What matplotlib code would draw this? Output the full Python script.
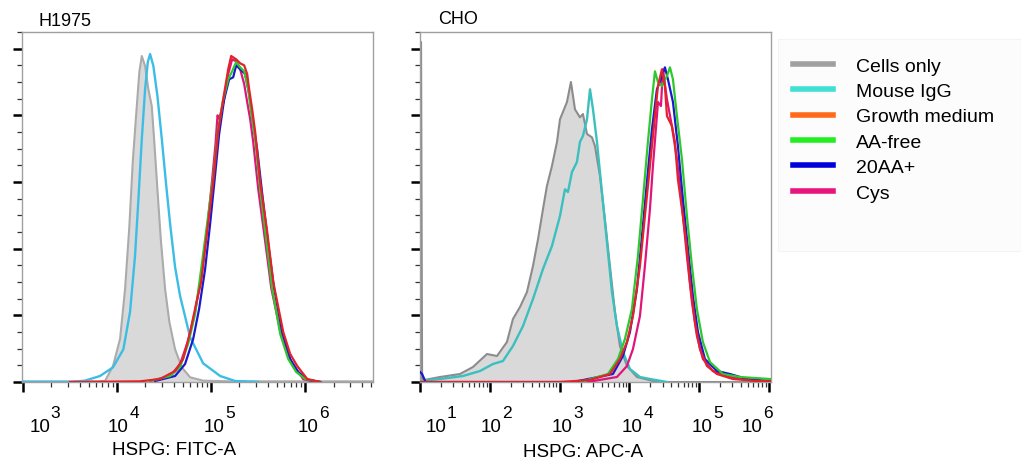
import numpy as np
import matplotlib
matplotlib.use("Agg")
import matplotlib.pyplot as plt
from matplotlib.lines import Line2D
from matplotlib.patches import Rectangle
from matplotlib.ticker import LogLocator, MultipleLocator, NullFormatter

plt.rcParams['font.family'] = ['Liberation Sans', 'DejaVu Sans']

# --- valores (x en log10 de la intensidad, y en cuentas relativas) ---
legend_labels = ["Cells only", "Mouse IgG", "Growth medium", "AA-free", "20AA+", "Cys"]
legend_colors = ["#a0a0a0", "#40e0d4", "#ff6a1a", "#22ee22", "#0000dd", "#e8157d"]

# Panel H1975 (FITC)
h_decades = [3, 4, 5, 6]
h_cells_x = [2.99, 3.80, 3.872, 3.957, 4.032, 4.085, 4.131, 4.167, 4.202, 4.237, 4.263, 4.298,
             4.333, 4.369, 4.394, 4.429, 4.465, 4.511, 4.556, 4.617, 4.688, 4.777, 4.915, 5.2, 6.72]
h_cells_y = [0.01, 0.01, 0.015, 0.24, 0.645, 1.39, 2.34, 3.30, 3.99, 4.65, 4.89, 4.74,
             4.39, 4.14, 3.64, 2.89, 2.14, 1.39, 0.90, 0.49, 0.22, 0.07, 0.02, 0.01, 0.01]
h_igg_x = [2.99, 3.50, 3.660, 3.819, 3.957, 4.067, 4.138, 4.191, 4.227, 4.263, 4.298, 4.327, 4.351,
           4.386, 4.429, 4.476, 4.521, 4.564, 4.617, 4.670, 4.777, 4.915, 5.096, 5.255, 5.5]
h_igg_y = [0.0, 0.0, 0.02, 0.09, 0.22, 0.49, 1.05, 1.89, 2.74, 3.64, 4.39, 4.80, 4.92,
           4.74, 4.29, 3.64, 2.97, 2.37, 1.72, 1.29, 0.67, 0.28, 0.09, 0.015, 0.0]
h_growth_x = [3.5, 4.245, 4.457, 4.617, 4.702, 4.777, 4.840, 4.894, 4.957, 5.021, 5.074, 5.128, 5.181,
              5.213, 5.266, 5.309, 5.351, 5.383, 5.404, 5.436, 5.468, 5.521, 5.596, 5.660, 5.766,
              5.840, 5.915, 6.021, 6.160]
h_growth_y = [0.0, 0.01, 0.045, 0.165, 0.345, 0.75, 1.17, 1.50, 2.25, 3.00, 3.75, 4.24, 4.69,
              4.89, 4.84, 4.78, 4.75, 4.62, 4.39, 4.09, 3.75, 3.00, 2.25, 1.50, 0.75,
              0.42, 0.24, 0.045, 0.0]
h_aafree_x = [4.351, 4.564, 4.670, 4.755, 4.830, 4.894, 4.957, 5.021, 5.074, 5.128, 5.181, 5.223, 5.266,
              5.309, 5.351, 5.394, 5.436, 5.468, 5.521, 5.585, 5.649, 5.734, 5.819, 5.904, 6.000, 6.160]
h_aafree_y = [0.015, 0.09, 0.225, 0.57, 1.02, 1.695, 2.37, 3.07, 3.79, 4.24, 4.54, 4.66, 4.80,
              4.72, 4.66, 4.39, 3.94, 3.64, 2.89, 2.14, 1.395, 0.72, 0.345, 0.15, 0.045, 0.0]
h_20aa_x = [4.404, 4.617, 4.723, 4.809, 4.872, 4.936, 4.989, 5.043, 5.085, 5.138, 5.191, 5.234, 5.266,
            5.309, 5.362, 5.404, 5.447, 5.489, 5.543, 5.606, 5.670, 5.755, 5.840, 5.926, 6.032, 6.160]
h_20aa_y = [0.015, 0.09, 0.27, 0.645, 1.095, 1.695, 2.37, 3.12, 3.72, 4.24, 4.54, 4.57, 4.75,
            4.69, 4.62, 4.32, 3.87, 3.49, 2.82, 2.07, 1.395, 0.75, 0.345, 0.15, 0.03, 0.0]
h_cys_x = [4.351, 4.564, 4.670, 4.755, 4.830, 4.894, 4.957, 5.011, 5.045, 5.068, 5.085, 5.106, 5.138,
           5.181, 5.223, 5.266, 5.309, 5.351, 5.383, 5.415, 5.447, 5.500, 5.575, 5.640, 5.745,
           5.850, 5.980, 6.160]
h_cys_y = [0.015, 0.09, 0.27, 0.615, 1.065, 1.575, 2.29, 3.04, 3.55, 4.00, 3.95, 4.05, 4.24,
           4.62, 4.84, 4.81, 4.69, 4.47, 4.20, 3.94, 3.60, 2.90, 2.10, 1.40, 0.70,
           0.30, 0.04, 0.0]

# Panel CHO (APC)
c_decades = [1, 2, 3, 4, 5, 6]
c_cells_x = [1.0, 1.008, 1.015, 1.03, 1.06, 1.287, 1.573, 1.759, 1.960, 2.103, 2.246, 2.332, 2.433,
             2.533, 2.619, 2.691, 2.762, 2.819, 2.891, 2.963, 3.006, 3.106, 3.163, 3.221, 3.292,
             3.335, 3.393, 3.464, 3.507, 3.579, 3.650, 3.722, 3.794, 3.865, 3.966, 4.109, 4.395, 6.03]
c_cells_y = [0.03, 5.1, 5.1, 0.05, 0.03, 0.075, 0.12, 0.225, 0.42, 0.39, 0.60, 0.945, 1.125,
             1.35, 1.74, 2.14, 2.59, 2.94, 3.24, 3.60, 3.94, 4.20, 4.50, 4.09, 3.97,
             4.02, 3.72, 3.67, 3.54, 3.09, 2.44, 1.74, 1.05, 0.54, 0.24, 0.075, 0.0, 0.0]
c_igg_x = [1.03, 1.287, 1.616, 1.860, 2.046, 2.189, 2.332, 2.476, 2.619, 2.762, 2.891, 3.006, 3.077,
           3.120, 3.178, 3.249, 3.292, 3.335, 3.393, 3.436, 3.479, 3.536, 3.607, 3.679, 3.751,
           3.822, 3.908, 4.009, 4.152, 4.295, 4.539]
c_igg_y = [0.02, 0.045, 0.09, 0.165, 0.27, 0.315, 0.54, 0.84, 1.245, 1.695, 2.04, 2.49, 2.89,
           2.85, 3.15, 3.30, 3.60, 3.69, 3.94, 4.39, 4.09, 3.60, 2.85, 2.10, 1.35,
           0.84, 0.45, 0.195, 0.075, 0.045, 0.0]
c_growth_x = [1.0, 3.006, 3.436, 3.722, 3.865, 3.966, 4.052, 4.152, 4.223, 4.295, 4.367, 4.410, 4.467,
              4.510, 4.539, 4.610, 4.653, 4.696, 4.768, 4.825, 4.868, 4.940, 5.011, 5.112, 5.255,
              5.484, 5.828, 6.03]
c_growth_y = [0.0, 0.0, 0.03, 0.12, 0.345, 0.60, 0.99, 1.74, 2.49, 3.24, 3.99, 4.44, 4.69,
              4.44, 3.99, 3.84, 3.60, 3.04, 2.49, 2.00, 1.50, 0.90, 0.495, 0.24, 0.12,
              0.045, 0.015, 0.01]
c_aafree_x = [3.3, 3.693, 3.837, 3.937, 4.037, 4.123, 4.195, 4.266, 4.324, 4.367, 4.410, 4.467, 4.539,
              4.582, 4.625, 4.682, 4.754, 4.825, 4.897, 4.968, 5.054, 5.155, 5.341, 5.585, 6.014]
c_aafree_y = [0.0, 0.12, 0.345, 0.645, 1.095, 1.89, 2.74, 3.60, 4.24, 4.66, 4.50, 4.44, 4.59,
              4.72, 4.54, 3.99, 3.34, 2.49, 1.74, 1.095, 0.60, 0.30, 0.12, 0.075, 0.045]
c_20aa_x = [1.0, 1.03, 1.08, 3.2, 3.765, 3.908, 4.009, 4.109, 4.181, 4.252, 4.324, 4.395, 4.453,
            4.510, 4.553, 4.625, 4.696, 4.768, 4.840, 4.911, 4.983, 5.083, 5.255, 5.441, 5.685, 6.014]
c_20aa_y = [0.15, 0.12, 0.0, 0.0, 0.12, 0.39, 0.75, 1.395, 2.19, 3.00, 3.79, 4.39, 4.54,
            4.72, 4.54, 4.20, 3.54, 2.74, 2.00, 1.29, 0.75, 0.345, 0.165, 0.12, 0.045, 0.015]
c_cys_x = [3.4, 3.822, 3.966, 4.052, 4.152, 4.223, 4.295, 4.338, 4.395, 4.410, 4.453, 4.481, 4.539,
           4.610, 4.682, 4.754, 4.825, 4.897, 4.968, 5.054, 5.198, 5.441, 5.828]
c_cys_y = [0.0, 0.075, 0.24, 0.495, 0.99, 1.74, 2.59, 3.24, 3.99, 4.20, 4.14, 4.69, 4.24,
           3.84, 3.34, 2.64, 1.89, 1.20, 0.69, 0.345, 0.165, 0.075, 0.015]

# --- figura ---
W, H = 1021, 464
fig = plt.figure(figsize=(W / 100, H / 100), dpi=100)


def px_box(left, top, right, bottom):
    return [left / W, 1 - bottom / H, (right - left) / W, (bottom - top) / H]


ax1 = fig.add_axes(px_box(22, 33, 373, 383))
ax2 = fig.add_axes(px_box(420, 33, 771, 383))


def dibujar(ax, cells, igg, cys, aa20, aafree, growth, cells_edge, igg_color):
    cx = 10 ** np.array(cells[0])
    ax.fill_between(cx, 0, cells[1], color="#d9d9d9", lw=0, zorder=1)
    ax.plot(cx, cells[1], color=cells_edge, lw=1.5, zorder=2)
    ax.plot(10 ** np.array(igg[0]), igg[1], color=igg_color, lw=1.7, zorder=3)
    ax.plot(10 ** np.array(cys[0]), cys[1], color="#e0157a", lw=1.6, zorder=4)
    ax.plot(10 ** np.array(aa20[0]), aa20[1], color="#1a1acc", lw=1.6, zorder=5)
    ax.plot(10 ** np.array(aafree[0]), aafree[1], color="#2ec82e", lw=1.6, zorder=6)
    ax.plot(10 ** np.array(growth[0]), growth[1], color="#e3222a", lw=1.6, zorder=7)

    ax.set_xscale("log")
    ax.set_ylim(0, 5.25)
    ax.yaxis.set_major_locator(MultipleLocator(1))
    ax.yaxis.set_minor_locator(MultipleLocator(0.25))
    ax.set_yticklabels([])
    ax.xaxis.set_minor_locator(LogLocator(base=10, subs=np.arange(2, 10), numticks=20))
    ax.xaxis.set_minor_formatter(NullFormatter())
    for s in ax.spines.values():
        s.set_color("#a0a0a0")
        s.set_linewidth(1.0)
    ax.tick_params(axis="y", which="major", direction="out", length=6.5, width=1.8, color="black")
    ax.tick_params(axis="y", which="minor", direction="out", length=3.5, width=0.9, color="#333333")
    ax.tick_params(axis="x", which="major", direction="out", length=7, width=1.8, color="black",
                   labelbottom=False)
    ax.tick_params(axis="x", which="minor", direction="out", length=3.5, width=0.9, color="#333333")


def etiquetas(ax, decades, shifts):
    # "10" centrado en la marca y el exponente arriba a la derecha
    ax.set_xticks([10.0 ** d for d in decades])
    for d, dx in zip(decades, shifts):
        ax.annotate("10", xy=(10.0 ** d, 0), xycoords=("data", "axes fraction"),
                    xytext=(dx, -35), textcoords="offset points",
                    ha="center", va="baseline", fontsize=13.5, annotation_clip=False)
        ax.annotate(str(d), xy=(10.0 ** d, 0), xycoords=("data", "axes fraction"),
                    xytext=(dx + 8, -25), textcoords="offset points",
                    ha="left", va="baseline", fontsize=12.5, annotation_clip=False)


dibujar(ax1, (h_cells_x, h_cells_y), (h_igg_x, h_igg_y), (h_cys_x, h_cys_y),
        (h_20aa_x, h_20aa_y), (h_aafree_x, h_aafree_y), (h_growth_x, h_growth_y),
        "#ababab", "#3cbde6")
dibujar(ax2, (c_cells_x, c_cells_y), (c_igg_x, c_igg_y), (c_cys_x, c_cys_y),
        (c_20aa_x, c_20aa_y), (c_aafree_x, c_aafree_y), (c_growth_x, c_growth_y),
        "#8c8c8c", "#3bbfbf")

ax1.set_xlim(10 ** 2.99, 10 ** 6.72)
ax2.set_xlim(10 ** 1.0, 10 ** 6.03)
etiquetas(ax1, h_decades, [12, 1, 2, 2])
etiquetas(ax2, c_decades, [11.5, 1, 2, 2, 2, -12])

fig.text(38 / W, 1 - 21 / H, "H1975", fontsize=13, va="center", ha="left")
fig.text(438 / W, 1 - 19 / H, "CHO", fontsize=13, va="center", ha="left")
fig.text(174 / W, 1 - 451 / H, "HSPG: FITC-A", fontsize=13.5, va="center", ha="center")
fig.text(583 / W, 1 - 453 / H, "HSPG: APC-A", fontsize=13.5, va="center", ha="center")

# leyenda
fig.patches.append(Rectangle((778 / W, 1 - 252 / H), (W - 778) / W, 212 / H,
                             transform=fig.transFigure, facecolor="#fcfcfc",
                             edgecolor="#f3f3f3", lw=0.8, zorder=0))
handles = [Line2D([0], [0], color=c, lw=4) for c in legend_colors]
fig.legend(handles, legend_labels, loc="upper left", bbox_to_anchor=(793 / W, 1 - 58 / H),
           frameon=False, fontsize=14, handlelength=2.05, handletextpad=1.2,
           labelspacing=0.4, borderpad=0, borderaxespad=0)

fig.savefig("out.png", dpi=100)
